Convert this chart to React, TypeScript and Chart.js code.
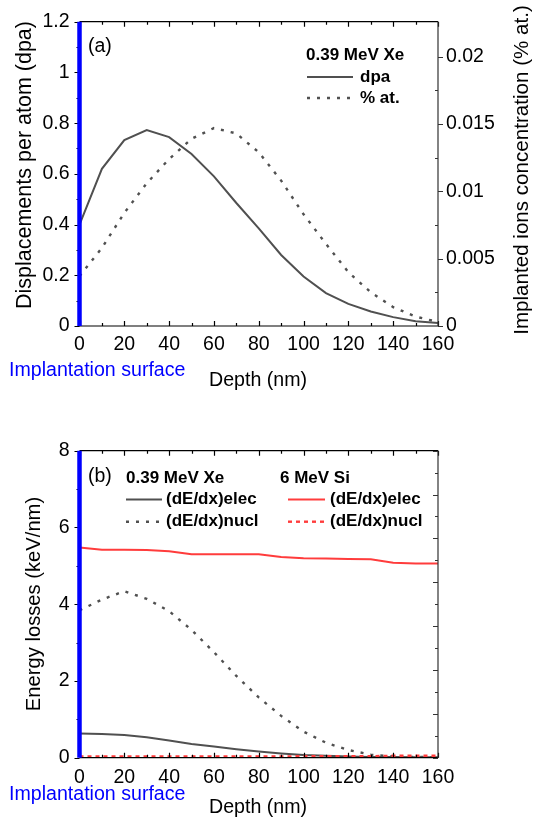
import React, { useEffect, useRef } from "react";
import { Chart, registerables } from "chart.js";
Chart.register(...registerables);

// ---------------- data ----------------
const depthNm = [0, 10, 20, 30, 40, 50, 60, 70, 80, 90, 100, 110, 120, 130, 140, 150, 160];
const dpaValues = [0.40, 0.62, 0.733, 0.773, 0.745, 0.678, 0.59, 0.485, 0.385, 0.28, 0.195, 0.13, 0.087, 0.057, 0.035, 0.019, 0.012];
const pctAtValues = [0.0037, 0.0058, 0.0084, 0.0106, 0.0124, 0.0139, 0.0147, 0.0143, 0.0129, 0.0108, 0.0083, 0.0061, 0.0040, 0.0025, 0.0014, 0.0007, 0.0003];

const xeElec = [0.63, 0.62, 0.59, 0.53, 0.45, 0.36, 0.29, 0.22, 0.16, 0.11, 0.07, 0.05, 0.03, 0.02, 0.02, 0.01, 0.01];
const xeNucl = [3.84, 4.12, 4.34, 4.14, 3.82, 3.33, 2.75, 2.13, 1.57, 1.09, 0.68, 0.39, 0.2, 0.08, 0.03, 0.02, 0.01];
const siElec = [5.48, 5.42, 5.42, 5.41, 5.38, 5.30, 5.30, 5.30, 5.30, 5.23, 5.20, 5.19, 5.18, 5.17, 5.08, 5.06, 5.06];
const siNucl = [0.03, 0.03, 0.03, 0.03, 0.03, 0.03, 0.03, 0.03, 0.03, 0.03, 0.04, 0.04, 0.04, 0.04, 0.05, 0.05, 0.05];

const depthTicks = [0, 20, 40, 60, 80, 100, 120, 140, 160];
const depthTickLabels = ["0", "20", "40", "60", "80", "100", "120", "140", "160"];
const depthMinorTicks = [10, 30, 50, 70, 90, 110, 130, 150];

const dpaTicks = [0, 0.2, 0.4, 0.6, 0.8, 1, 1.2];
const dpaTickLabels = ["0", "0.2", "0.4", "0.6", "0.8", "1", "1.2"];
const dpaMinorTicks = [0.1, 0.3, 0.5, 0.7, 0.9, 1.1];

const pctTicks = [0, 0.005, 0.01, 0.015, 0.02];
const pctTickLabels = ["0", "0.005", "0.01", "0.015", "0.02"];
const pctMinorTicks = [0.0025, 0.0075, 0.0125, 0.0175];

const energyTicks = [0, 2, 4, 6, 8];
const energyTickLabels = ["0", "2", "4", "6", "8"];
const energyMinorTicks = [1, 3, 5, 7];

const rightBTicks = [0, 1, 2, 3, 4, 5, 6, 7];
const rightBMinorTicks = [0.5, 1.5, 2.5, 3.5, 4.5, 5.5, 6.5];

// ---------------- styles ----------------
const FONT = "'Liberation Sans', Arial, Helvetica, sans-serif";
const GRAY = "#505050";
const RED = "#ff3c3c";
const BLUE = "#0000ff";
const TICK_SIZE = 19.5;

function pts(ys: number[]) {
  return depthNm.map((x, i) => ({ x, y: ys[i] }));
}

function labelFor(ticks: number[], labels: string[]) {
  return (v: any) => {
    const i = ticks.findIndex((t) => Math.abs(t - Number(v)) < 1e-9);
    return i >= 0 ? labels[i] : "";
  };
}

function hTicks(ctx: CanvasRenderingContext2D, scale: any, values: number[], y: number, len: number) {
  values.forEach((v) => {
    const x = Math.round(scale.getPixelForValue(v)) + 0.5;
    ctx.moveTo(x, y);
    ctx.lineTo(x, y + len);
  });
}
function vTicks(ctx: CanvasRenderingContext2D, scale: any, values: number[], x: number, len: number) {
  values.forEach((v) => {
    const y = Math.round(scale.getPixelForValue(v)) + 0.5;
    ctx.moveTo(x, y);
    ctx.lineTo(x + len, y);
  });
}

function text(
  ctx: CanvasRenderingContext2D,
  s: string,
  x: number,
  y: number,
  o: { size: number; bold?: boolean; color?: string; align?: CanvasTextAlign; rot?: number }
) {
  ctx.save();
  ctx.font = `${o.bold ? "bold " : ""}${o.size}px ${FONT}`;
  ctx.fillStyle = o.color || "#000";
  ctx.textAlign = o.align || "left";
  ctx.textBaseline = "middle";
  ctx.translate(x, y);
  if (o.rot) ctx.rotate(o.rot);
  ctx.fillText(s, 0, 0);
  ctx.restore();
}

function sample(ctx: CanvasRenderingContext2D, x1: number, x2: number, y: number, color: string, dash: number[], w: number) {
  ctx.save();
  ctx.strokeStyle = color;
  ctx.lineWidth = w;
  ctx.setLineDash(dash);
  ctx.beginPath();
  ctx.moveTo(x1, y);
  ctx.lineTo(x2, y);
  ctx.stroke();
  ctx.restore();
}

function frame(chart: any, leftTicks: number[], leftMinor: number[], leftScale: string, rightDraw: (ctx: CanvasRenderingContext2D, a: any) => void) {
  const { ctx, chartArea: a, scales } = chart;
  ctx.save();
  ctx.strokeStyle = "#000";
  ctx.lineWidth = 1.2;
  ctx.beginPath();
  ctx.moveTo(a.left, a.top);
  ctx.lineTo(a.right, a.top);
  ctx.moveTo(a.left, a.bottom);
  ctx.lineTo(a.right, a.bottom);
  hTicks(ctx, scales.x, depthTicks, a.bottom, -5);
  hTicks(ctx, scales.x, depthMinorTicks, a.bottom, -3);
  hTicks(ctx, scales.x, depthTicks, a.top, 5);
  hTicks(ctx, scales.x, depthMinorTicks, a.top, 3);
  vTicks(ctx, scales[leftScale], leftTicks, a.left, -5);
  vTicks(ctx, scales[leftScale], leftMinor, a.left, -3);
  ctx.stroke();
  ctx.strokeStyle = "#333";
  ctx.beginPath();
  ctx.moveTo(a.right, a.top);
  ctx.lineTo(a.right, a.bottom);
  rightDraw(ctx, a);
  ctx.stroke();
  // implantation surface line
  ctx.strokeStyle = BLUE;
  ctx.lineWidth = 4.5;
  ctx.beginPath();
  ctx.moveTo(a.left, a.top);
  ctx.lineTo(a.left, a.bottom);
  ctx.stroke();
  ctx.restore();
}

const decoA = {
  id: "decoA",
  afterDatasetsDraw(chart: any) {
    const { ctx, scales } = chart;
    frame(chart, dpaTicks, dpaMinorTicks, "y", (c, a) => {
      vTicks(c, scales.y2, pctTicks, a.right, 5);
      vTicks(c, scales.y2, pctMinorTicks, a.right, -3);
    });
    text(ctx, "(a)", 88, 47, { size: 19.5 });
    text(ctx, "0.39 MeV Xe", 306, 55, { size: 17, bold: true });
    sample(ctx, 307, 353, 77, GRAY, [], 2);
    text(ctx, "dpa", 360, 77, { size: 17, bold: true });
    sample(ctx, 307, 353, 98, GRAY, [3, 7], 2.4);
    text(ctx, "% at.", 360, 98, { size: 17, bold: true });
    text(ctx, "Displacements per atom (dpa)", 25, 165, { size: 21.5, align: "center", rot: -Math.PI / 2 });
    text(ctx, "Implanted ions concentration (% at.)", 522, 170, { size: 20.6, align: "center", rot: -Math.PI / 2 });
    text(ctx, "Implantation surface", 9, 371, { size: 19.6, color: BLUE });
    text(ctx, "Depth (nm)", 258, 381, { size: 19.6, align: "center" });
  },
};

const decoB = {
  id: "decoB",
  afterDatasetsDraw(chart: any) {
    const { ctx, scales } = chart;
    frame(chart, energyTicks, energyMinorTicks, "y", (c, a) => {
      vTicks(c, scales.y2, rightBTicks, a.right, -5);
      vTicks(c, scales.y2, rightBMinorTicks, a.right, -3);
    });
    text(ctx, "(b)", 88, 67, { size: 19.5 });
    text(ctx, "0.39 MeV Xe", 126, 68, { size: 17, bold: true });
    text(ctx, "6 MeV Si", 280, 68, { size: 17, bold: true });
    sample(ctx, 126, 162, 89.5, GRAY, [], 2);
    text(ctx, "(dE/dx)elec", 166, 89.5, { size: 17, bold: true });
    sample(ctx, 126, 162, 111.7, GRAY, [3, 7], 2.4);
    text(ctx, "(dE/dx)nucl", 166, 111.7, { size: 17, bold: true });
    sample(ctx, 288, 325, 89.5, RED, [], 2);
    text(ctx, "(dE/dx)elec", 330, 89.5, { size: 17, bold: true });
    sample(ctx, 288, 325, 111.7, RED, [4, 4], 2.4);
    text(ctx, "(dE/dx)nucl", 330, 111.7, { size: 17, bold: true });
    text(ctx, "Energy losses (keV/nm)", 34, 194, { size: 20.2, align: "center", rot: -Math.PI / 2 });
    text(ctx, "Implantation surface", 9, 385, { size: 19.6, color: BLUE });
    text(ctx, "Depth (nm)", 258, 398, { size: 19.6, align: "center" });
  },
};

function xScale(height: number, pad: number) {
  return {
    type: "linear",
    position: "bottom",
    min: 0,
    max: 160,
    afterBuildTicks: (s: any) => {
      s.ticks = depthTicks.map((value) => ({ value }));
    },
    afterFit: (s: any) => {
      s.height = height;
    },
    ticks: { callback: labelFor(depthTicks, depthTickLabels), padding: pad, font: { size: TICK_SIZE }, autoSkip: false, maxRotation: 0 },
    grid: { display: false, drawTicks: false },
    border: { display: false },
  };
}

function configA(): any {
  return {
    type: "line",
    data: {
      datasets: [
        { label: "dpa", data: pts(dpaValues), yAxisID: "y", borderColor: GRAY, borderWidth: 2, pointRadius: 0, tension: 0 },
        { label: "% at.", data: pts(pctAtValues), yAxisID: "y2", borderColor: GRAY, borderWidth: 2.4, borderDash: [3, 7], pointRadius: 0, tension: 0 },
      ],
    },
    options: {
      responsive: false,
      animation: false,
      layout: { padding: { top: 18, left: 0, right: 0, bottom: 0 } },
      plugins: { legend: { display: false }, tooltip: { enabled: false } },
      scales: {
        x: xScale(84, 7),
        y: {
          position: "left",
          min: 0,
          max: 1.2,
          afterBuildTicks: (s: any) => {
            s.ticks = dpaTicks.map((value) => ({ value }));
          },
          afterFit: (s: any) => {
            s.width = 79.5;
          },
          ticks: { callback: labelFor(dpaTicks, dpaTickLabels), padding: 10, font: { size: TICK_SIZE } },
          grid: { display: false, drawTicks: false },
          border: { display: false },
        },
        y2: {
          position: "right",
          min: 0,
          max: 0.0226,
          afterBuildTicks: (s: any) => {
            s.ticks = pctTicks.map((value) => ({ value }));
          },
          afterFit: (s: any) => {
            s.width = 95;
          },
          ticks: { callback: labelFor(pctTicks, pctTickLabels), padding: 8, font: { size: TICK_SIZE } },
          grid: { display: false, drawTicks: false },
          border: { display: false },
        },
      },
    },
    plugins: [decoA],
  };
}

function configB(): any {
  return {
    type: "line",
    data: {
      datasets: [
        { label: "Si (dE/dx)nucl", data: pts(siNucl), yAxisID: "y", borderColor: RED, borderWidth: 2.4, borderDash: [4, 4], pointRadius: 0, tension: 0 },
        { label: "Xe (dE/dx)elec", data: pts(xeElec), yAxisID: "y", borderColor: GRAY, borderWidth: 2, pointRadius: 0, tension: 0 },
        { label: "Xe (dE/dx)nucl", data: pts(xeNucl), yAxisID: "y", borderColor: GRAY, borderWidth: 2.4, borderDash: [3, 7], pointRadius: 0, tension: 0 },
        { label: "Si (dE/dx)elec", data: pts(siElec), yAxisID: "y", borderColor: RED, borderWidth: 2, pointRadius: 0, tension: 0 },
      ],
    },
    options: {
      responsive: false,
      animation: false,
      layout: { padding: { top: 40.7, left: 0, right: 95, bottom: 0 } },
      plugins: { legend: { display: false }, tooltip: { enabled: false } },
      scales: {
        x: xScale(66.3, 8.5),
        y: {
          position: "left",
          min: 0,
          max: 8,
          afterBuildTicks: (s: any) => {
            s.ticks = energyTicks.map((value) => ({ value }));
          },
          afterFit: (s: any) => {
            s.width = 79.5;
          },
          ticks: { callback: labelFor(energyTicks, energyTickLabels), padding: 10, font: { size: TICK_SIZE } },
          grid: { display: false, drawTicks: false },
          border: { display: false },
        },
        y2: {
          position: "right",
          display: false,
          min: 0,
          max: 7,
        },
      },
    },
    plugins: [decoB],
  };
}

export default function App() {
  const refA = useRef<HTMLCanvasElement>(null);
  const refB = useRef<HTMLCanvasElement>(null);
  useEffect(() => {
    Chart.defaults.font.family = FONT;
    Chart.defaults.color = "#000";
    const a = new Chart(refA.current as HTMLCanvasElement, configA());
    const b = new Chart(refB.current as HTMLCanvasElement, configB());
    return () => {
      a.destroy();
      b.destroy();
    };
  }, []);
  return (
    <div style={{ position: "absolute", left: 0, top: 0, width: 533, height: 824, background: "#fff", overflow: "hidden" }}>
      <canvas ref={refA} width={533} height={410} style={{ position: "absolute", left: 0, top: 0, width: 533, height: 410 }} />
      <canvas ref={refB} width={533} height={414} style={{ position: "absolute", left: 0, top: 410, width: 533, height: 414 }} />
    </div>
  );
}
